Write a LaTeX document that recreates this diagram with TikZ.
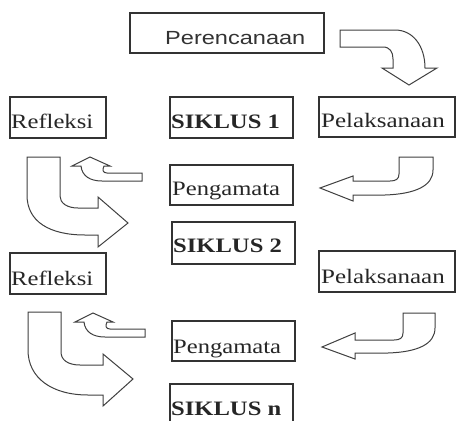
\documentclass[tikz,border=0pt]{standalone}
\usepackage{fontspec}
\setmainfont{Liberation Serif}
\newfontfamily\arialfont{Liberation Sans}
\usepackage{graphicx}
\begin{document}
\begin{tikzpicture}[x=1pt,y=-1pt,
  boxline/.style={draw=black!80,line width=1.2pt},
  blk/.style={draw=black!75,line width=1pt,line join=miter,fill=white},
  txt/.style={anchor=base west,inner sep=0pt,text=black!85,font=\fontsize{20.5}{20.5}\selectfont},
  stxt/.style={anchor=base west,inner sep=0pt,text=black!80,font=\arialfont\fontsize{19}{19}\selectfont}]
\useasboundingbox[fill=white] (0,0) rectangle (459,421);
% boxes
\draw[boxline] (130,13) rectangle (324,53);
\draw[boxline] (10,97) rectangle (106,138);
\draw[boxline] (170,97) rectangle (293,138);
\draw[boxline] (319,97) rectangle (455,137);
\draw[boxline] (170,165) rectangle (293,205);
\draw[boxline] (172,222) rectangle (295,264);
\draw[boxline] (10,253) rectangle (106,294);
\draw[boxline] (319,251) rectangle (455,292);
\draw[boxline] (172,321) rectangle (295,361);
\draw[boxline] (170,384) rectangle (293,440);
% texts
\node[stxt] (per) at (165,44) {\scalebox{1.24}[1]{Perencanaan}};
\node[txt] (ref1) at (11,128) {\scalebox{1.2}[1]{Refleksi}};
\node[txt] (sik1) at (171,128) {\scalebox{1.2}[1]{\bfseries SIKLUS 1}};
\node[txt] (pel1) at (321,127) {\scalebox{1.22}[1]{Pelaksanaan}};
\node[txt] (pen1) at (172,195) {\scalebox{1.2}[1]{Pengamata}};
\node[txt] (sik2) at (173,252) {\scalebox{1.2}[1]{\bfseries SIKLUS 2}};
\node[txt] (ref2) at (11,285) {\scalebox{1.2}[1]{Refleksi}};
\node[txt] (pel2) at (321,283) {\scalebox{1.22}[1]{Pelaksanaan}};
\node[txt] (pen2) at (173,353) {\scalebox{1.2}[1]{Pengamata}};
\node[txt] (sikn) at (171,415) {\scalebox{1.2}[1]{\bfseries SIKLUS n}};
% block arrows
\draw[blk] (340,30) -- (395,30) .. controls (413,30) and (425,46) .. (425,68) -- (437,68) -- (409,85) -- (382,68) -- (393,68) -- (393,59) .. controls (393,52) and (390,47) .. (383,47) -- (340,47) -- cycle;
\draw[blk] (433,157) -- (399,157) -- (399,174) .. controls (399,179) and (396,181) .. (390,181) -- (353,181) -- (353,176) -- (320,188) -- (353,201) -- (353,195) -- (385,195) .. controls (415,194) and (433,186) .. (433,170) -- cycle;
\draw[blk] (142,173) -- (107,173) .. controls (103,173) and (102,170) .. (104,166) -- (110,166) -- (90,157) -- (72,166) -- (81,166) .. controls (82,176) and (90,181) .. (102,181) -- (142,181) -- cycle;
\draw[blk] (27,157) -- (60,157) -- (60,196) .. controls (60,203) and (67,208) .. (78,208) -- (98,208) -- (98,197) -- (128,223) -- (98,247) -- (98,235) -- (85,235) .. controls (50,235) and (27,222) .. (27,195) -- cycle;
% second cycle
\draw[blk] (435,313) -- (403,313) -- (403,333) .. controls (403,338) and (400,340) .. (394,340) -- (355,340) -- (355,333) -- (322,347) -- (355,359) -- (355,353) -- (388,353) .. controls (418,352) and (435,344) .. (435,328) -- cycle;
\draw[blk] (145,329) -- (110,329) .. controls (106,329) and (105,326) .. (107,322) -- (113,322) -- (93,313) -- (75,322) -- (84,322) .. controls (85,332) and (93,337) .. (105,337) -- (145,337) -- cycle;
\draw[blk] (28,312) -- (61,312) -- (61,352) .. controls (61,360) and (68,365) .. (80,365) -- (103,365) -- (103,354) -- (133,379) -- (103,406) -- (103,395) -- (88,395) .. controls (52,395) and (28,378) .. (28,350) -- cycle;
\end{tikzpicture}
\end{document}
